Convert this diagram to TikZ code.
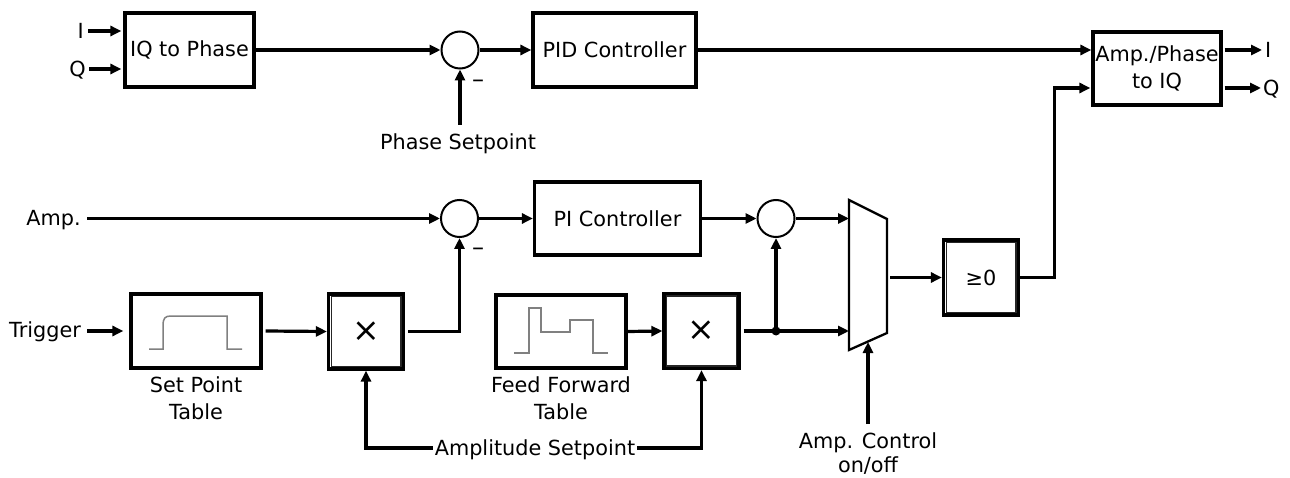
\documentclass[tikz,border=0pt]{standalone}
\usepackage{fontspec}
\setmainfont{DejaVu Sans}
\usetikzlibrary{arrows.meta,calc}
\begin{document}
\begin{tikzpicture}[x=1pt,y=-1pt,
  font=\fontsize{20.8}{27}\selectfont,
  box/.style={draw, line width=3.2pt, inner sep=0pt},
  dbox/.style={draw, line width=3.2pt, minimum width=75pt, minimum height=75pt, inner sep=0pt},
  dinner/.style={draw=black!85, line width=1.4pt},
  sumc/.style={draw, circle, line width=2pt, minimum size=37pt, inner sep=0pt},
  arr/.style={line width=3.2pt, -{Triangle[length=11pt,width=10pt]}},
  ln/.style={line width=3.2pt},
  lbl/.style={inner sep=0pt},
  big/.style={font=\fontsize{33}{33}\selectfont},
  minus/.style={inner sep=0pt, font=\fontsize{24}{24}\selectfont},
  wave/.style={draw=black!50, line width=1.5pt}]
\useasboundingbox (0,0) rectangle (1290,478);

% ---- top row ----
\node[box, minimum width=129pt, minimum height=74pt] (iq) at (189.5,50) {IQ to Phase};
\node[sumc] (s1) at (460,50) {};
\node[box, minimum width=163pt, minimum height=74pt] (pid) at (614.5,50) {PID Controller};
\node[box, minimum width=128pt, minimum height=73pt, align=center] (ap) at (1157,68.5) {Amp./Phase\\to IQ};

\node[lbl, anchor=base east] (iI) at (84,38.6) {I};
\node[lbl, anchor=base east] (iQ) at (86,76.6) {Q};
\draw[arr] ($(iI.base east)+(4,-7.6)$) -- ($(iq.west)+(-2,-19)$);
\draw[arr] ($(iQ.base east)+(3,-7.6)$) -- ($(iq.west)+(-2,19)$);

\draw[arr] (iq) -- (s1);
\draw[arr] (s1) -- (pid);
\draw[arr] (pid.east) -- (pid.east -| ap.west);

\node[lbl, anchor=base] (ps) at (458,149.6) {Phase Setpoint};
\coordinate (psA) at (460,125);
\draw[arr] (psA) -- (s1.south);
\node[minus, anchor=base] (mn1) at (478,88) {–};

\node[lbl, anchor=base west] (oI) at (1265,57.6) {I};
\node[lbl, anchor=base west] (oQ) at (1263,95.6) {Q};
\draw[arr] ($(ap.east)+(2,-18.5)$) -- ($(oI.base west)+(-3,-7.6)$);
\draw[arr] ($(ap.east)+(2,19.5)$) -- ($(oQ.base west)+(-2,-7.6)$);

% ---- middle row ----
\node[lbl, anchor=base] (lamp) at (53.5,225.6) {Amp.};
\coordinate (ampA) at (87,218.5);
\node[sumc] (s2) at (459.5,218.5) {};
\draw[arr] (ampA) -- (s2);
\node[minus, anchor=base] (mn2) at (478,256) {–};
\node[box, minimum width=166pt, minimum height=73pt] (pi) at (617.5,218.5) {PI Controller};
\draw[arr] (s2) -- (pi);
\node[sumc] (s3) at (776,218.5) {};
\draw[arr] (pi) -- (s3);

% multiplexer
\coordinate (mxA) at (849,200);
\coordinate (mxB) at (887,219);
\coordinate (mxC) at (887,333);
\coordinate (mxD) at (849,350);
\draw[line width=2.3pt, line join=miter] (mxA) -- (mxB) -- (mxC) -- (mxD) -- cycle;
\coordinate (mxIn1) at (849,218.5);
\coordinate (mxIn2) at (849,331);
\coordinate (mxOut) at (887,277.5);
\coordinate (mxCtl) at (868,342);
\draw[arr] (s3) -- (mxIn1);

\node[dbox] (ge) at (981,277.5) {≥0};
\draw[dinner] ([xshift=4.3pt,yshift=-4.3pt]ge.north west) rectangle ([xshift=-4.3pt,yshift=4.3pt]ge.south east);
\draw[arr] ($(mxOut)+(3,0)$) -- (ge.west);
\draw[arr] (ge.east) -- ($(ge.east)+(34,0)$) |- ($(ap.west)+(-1,19.5)$);

% ---- bottom row ----
\node[lbl, anchor=base] (ltrig) at (45,337.6) {Trigger};
\coordinate (trA) at (87,331);
\node[box, minimum width=130pt, minimum height=74pt] (spt) at (196,331) {};
\draw[arr, shorten >=6pt] (trA) -- (spt);
\begin{scope}[shift={(spt.center)}]
  \draw[wave] (-47,18) -- (-33,18) -- (-33,-5) .. controls (-33,-13) and (-31,-15) .. (-25,-15) -- (31,-15) -- (31,18) -- (46,18);
\end{scope}
\node[align=center, inner sep=0pt] (sptl) at (196,398.5) {Set Point\\Table};

\node[dbox, big] (m1) at (366,331.5) {×};
\draw[dinner] ([xshift=4.3pt,yshift=-4.3pt]m1.north west) rectangle ([xshift=-4.3pt,yshift=4.3pt]m1.south east);
\draw[arr] ($(spt.east)+(3,0)$) -- (m1.west);
\draw[arr] ($(m1.east)+(3,0)$) -| (s2.south);

\node[box, minimum width=130pt, minimum height=73pt] (fft) at (561,331.5) {};
\begin{scope}[shift={(fft.center)}]
  \draw[wave] (-47,21.5) -- (-32,21.5) -- (-32,-23.5) -- (-20,-23.5) -- (-20,0.5) -- (9,0.5) -- (9,-11.5) -- (32,-11.5) -- (32,21.5) -- (47,21.5);
\end{scope}
\node[align=center, inner sep=0pt] (fftl) at (561,398.5) {Feed Forward\\Table};

\node[dbox, big] (m2) at (701.5,331) {×};
\draw[dinner] ([xshift=4.3pt,yshift=-4.3pt]m2.north west) rectangle ([xshift=-4.3pt,yshift=4.3pt]m2.south east);
\draw[arr] (fft.east) -- (m2.west);

\coordinate (dot) at (s3.south |- m2.east);
\draw[ln] ($(m2.east)+(3,0)$) -- (dot);
\draw[arr] (dot) -- (mxIn2);
\draw[arr] (dot) -- (s3.south);
\fill (dot) circle (4.5pt);

\node[lbl, anchor=base] (asp) at (535,455.6) {Amplitude Setpoint};
\draw[arr] ($(asp.base west)+(-2,-7.6)$) -| (m1.south);
\draw[arr] ($(asp.base east)+(2,-7.6)$) -| (m2.south);

\node[align=center, inner sep=0pt] (actl) at (868,454) {Amp. Control\\[-3pt]on/off};
\coordinate (actA) at (868,424);
\draw[arr] (actA) -- (mxCtl);
\end{tikzpicture}
\end{document}
